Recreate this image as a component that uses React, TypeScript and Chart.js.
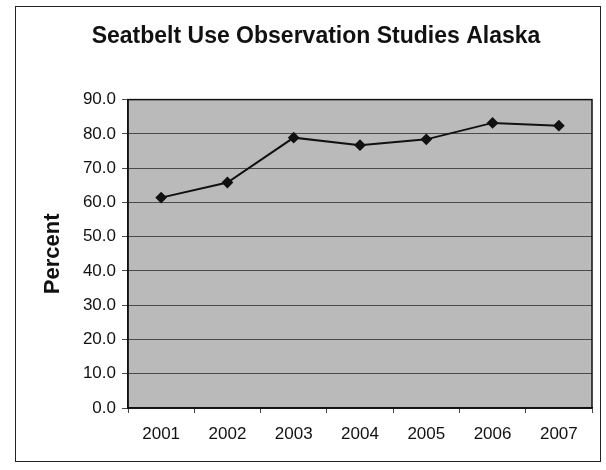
import React, { useEffect, useRef } from "react";
import { Chart, registerables } from "chart.js";

Chart.register(...registerables);

const years = ["2001", "2002", "2003", "2004", "2005", "2006", "2007"];
const seatbeltUse = [61.4, 65.8, 78.9, 76.7, 78.4, 83.2, 82.4];
const chartTitle = "Seatbelt Use Observation Studies Alaska";
const yAxisTitle = "Percent";
const yMin = 0;
const yMax = 90;
const yStep = 10;

const FONT = "'Liberation Sans', Arial, sans-serif";

const framePlugin = {
  id: "frame",
  beforeDraw(chart: any) {
    const { ctx, chartArea } = chart;
    ctx.save();
    ctx.fillStyle = "#ffffff";
    ctx.fillRect(0, 0, chart.width, chart.height);
    ctx.strokeStyle = "#222";
    ctx.lineWidth = 1;
    ctx.strokeRect(15.5, 6.5, 585, 455);
    ctx.fillStyle = "#bababa";
    ctx.fillRect(chartArea.left, chartArea.top, chartArea.right - chartArea.left, chartArea.bottom - chartArea.top);
    ctx.restore();
  },
  afterDatasetsDraw(chart: any) {
    const { ctx, chartArea } = chart;
    ctx.save();
    ctx.strokeStyle = "#111";
    ctx.lineWidth = 1.5;
    ctx.strokeRect(chartArea.left, chartArea.top, chartArea.right - chartArea.left, chartArea.bottom - chartArea.top);
    ctx.restore();
  },
};

export default function App() {
  const ref = useRef<HTMLCanvasElement | null>(null);
  useEffect(() => {
    document.body.style.margin = "0";
    const canvas = ref.current!;
    const chart = new Chart(canvas, {
      type: "line",
      data: {
        labels: years,
        datasets: [
          {
            data: seatbeltUse,
            borderColor: "#111",
            backgroundColor: "#111",
            borderWidth: 2,
            pointStyle: "rectRot",
            pointRadius: 4.5,
            pointBackgroundColor: "#111",
            pointBorderColor: "#111",
            tension: 0,
          },
        ],
      },
      options: {
        responsive: false,
        animation: false,
        layout: { padding: { left: 40, right: 14, top: 0, bottom: 0 } },
        plugins: {
          legend: { display: false },
          tooltip: { enabled: false },
          title: {
            display: true,
            text: chartTitle,
            color: "#111",
            font: { family: FONT, size: 23, weight: "bold" },
            padding: { top: 23, bottom: 49 },
          },
        },
        scales: {
          x: {
            offset: true,
            grid: {
              display: true,
              drawOnChartArea: false,
              drawTicks: true,
              tickLength: 5,
              color: "#444",
              offset: true,
            },
            border: { display: true, color: "#111", width: 1.5 },
            ticks: {
              color: "#111",
              font: { family: FONT, size: 17 },
              padding: 11,
              maxRotation: 0,
            },
            afterFit(scale: any) {
              scale.height = 62;
            },
          },
          y: {
            min: yMin,
            max: yMax,
            grid: {
              color: "#4a4a4a",
              lineWidth: 1,
              tickLength: 6,
            },
            border: { display: true, color: "#111", width: 1.5 },
            ticks: {
              stepSize: yStep,
              color: "#111",
              font: { family: FONT, size: 17 },
              padding: 6,
              callback: (v: any) => Number(v).toFixed(1),
            },
            title: {
              display: true,
              text: yAxisTitle,
              color: "#111",
              font: { family: FONT, size: 22, weight: "bold" },
              padding: { top: 0, bottom: 0 },
            },
            afterFit(scale: any) {
              scale.width = 88;
            },
          },
        },
      },
      plugins: [framePlugin],
    } as any);
    return () => chart.destroy();
  }, []);
  return <canvas ref={ref} width={606} height={470} style={{ display: "block" }} />;
}
